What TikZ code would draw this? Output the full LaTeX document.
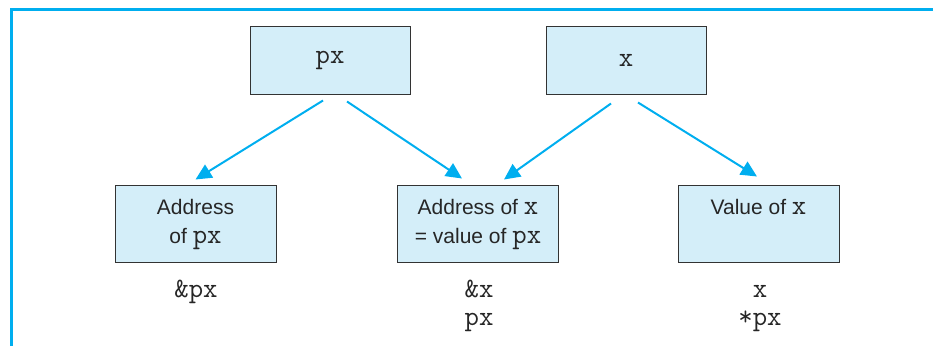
\documentclass[tikz,border=0pt]{standalone}
\usepackage{fontspec}
\setmainfont{Liberation Sans}
\usetikzlibrary{arrows.meta}
\definecolor{framecyan}{HTML}{00AEEF}
\definecolor{boxfill}{HTML}{D4EEF9}
\definecolor{boxline}{HTML}{333333}
\newcommand\cmono[1]{{\fontsize{28}{29}\selectfont\ttfamily #1}}
\tikzset{
  varbox/.style={draw=boxline, line width=1pt, fill=boxfill, minimum width=160pt, minimum height=68pt, inner sep=0pt, font=\fontsize{21}{29}\selectfont, text=black!85},
  membox/.style={draw=boxline, line width=1pt, fill=boxfill, minimum width=161pt, minimum height=77pt, inner sep=0pt, align=center, font=\fontsize{21}{29}\selectfont, text=black!85},
  ptr/.style={draw=framecyan, line width=2pt, -{Triangle[length=16pt,width=15pt]}},
  expr/.style={anchor=base, inner sep=0pt, text=black!85},
  frameline/.style={draw=framecyan, line width=3pt}
}
\begin{document}
\begin{tikzpicture}[x=1pt,y=-1pt]
\useasboundingbox (0,0) rectangle (933,346);
\draw[frameline] (11,346) -- (11,9.5) -- (933,9.5);

\node[varbox] (px) at (330,60) {\cmono{px}};
\node[varbox] (xv) at (626,60) {\cmono{x}};

\node[membox] (a) at (195.5,223.5) {\strut Address\\\strut of \cmono{px}};
\node[membox] (b) at (478,223.5) {\strut Address of \cmono{x}\\\strut = value of \cmono{px}};
\node[membox] (c) at (758.5,223.5) {\strut Value of \cmono{x}\\\strut};

\node[expr] (la) at (196,297) {\cmono{\&px}};
\node[expr] (lb1) at (479,297) {\cmono{\&x}};
\node[expr] (lb2) at (479,325) {\cmono{px}};
\node[expr] (lc1) at (760,297) {\cmono{x}};
\node[expr] (lc2) at (760,325) {\cmono{*px}};

\draw[ptr] ([xshift=-7pt,yshift=-6pt]px.south) -- ([yshift=5pt]a.north);
\draw[ptr] ([xshift=17pt,yshift=-7pt]px.south) -- ([xshift=-16pt,yshift=6pt]b.north);
\draw[ptr] ([xshift=-15pt,yshift=-9pt]xv.south) -- ([xshift=26pt,yshift=5pt]b.north);
\draw[ptr] ([xshift=12pt,yshift=-8pt]xv.south) -- ([xshift=-1.5pt,yshift=8pt]c.north);
\end{tikzpicture}
\end{document}
